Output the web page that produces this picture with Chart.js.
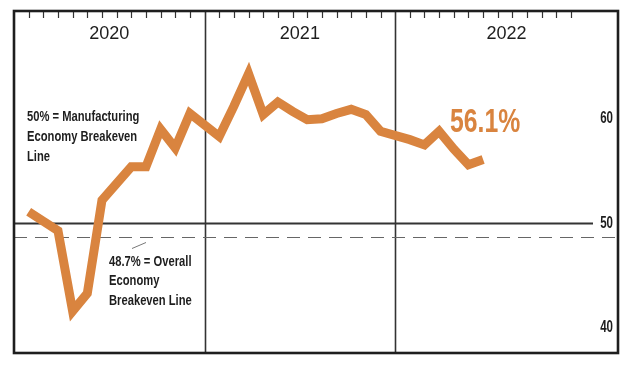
<!DOCTYPE html>
<html>
<head>
<meta charset="utf-8">
<script src="https://cdn.jsdelivr.net/npm/chart.js@4.4.0/dist/chart.umd.min.js"></script>
<style>
    body { margin: 0; background: #fff; }
    #wrap { width: 630px; height: 379px; }
</style>
</head>
<body>
<div id="wrap"><canvas id="pmiChart" width="630" height="379"></canvas></div>
<script>
// Data
const years = ['2020', '2021', '2022'];
const monthsPerYear = 12;
const pmi2020 = [51.1, 50.2, 49.3, 41.6, 43.3, 52.2, 53.8, 55.4, 55.4, 59.0, 57.2, 60.5];
const pmi2021 = [58.3, 61.2, 64.3, 60.4, 61.6, 60.7, 59.9, 60.0, 60.5, 60.9, 60.4, 58.8];
const pmi2022 = [58.0, 57.5, 58.8, 57.1, 55.6, 56.1];
const yTickLabels = [40, 50, 60];
const mfgBreakeven = 50;
const overallBreakeven = 48.7;
const latestLabel = '56.1%';
const mfgNote = ['50% = Manufacturing', 'Economy Breakeven', 'Line'];
const overallNote = ['48.7% = Overall', 'Economy', 'Breakeven Line'];

const ORANGE = '#d9843f';
const INK = '#1e1e1e';
const SANS = '"Liberation Sans", Arial, sans-serif';

// each year takes 13 slots: the divider, then 12 months
const slot = monthsPerYear + 1;
const series = [pmi2020, pmi2021, pmi2022];
const points = [];
series.forEach((vals, yi) => {
    vals.forEach((v, m) => points.push({ x: yi * slot + m + 1, y: v }));
});

// no condensed face installed, so squeeze a normal one horizontally
function narrowText(ctx, text, x, y, sx) {
    ctx.save();
    ctx.translate(x, y);
    ctx.scale(sx, 1);
    ctx.fillText(text, 0, 0);
    ctx.restore();
}

const framePlugin = {
    id: 'frame',
    beforeDatasetsDraw(chart) {
        const ctx = chart.ctx;
        const { left, right, top, bottom } = chart.chartArea;
        const xs = chart.scales.x, ys = chart.scales.y;
        ctx.save();

        // year dividers
        ctx.strokeStyle = '#333';
        ctx.lineWidth = 1.6;
        for (let yi = 1; yi < years.length; yi++) {
            const px = Math.round(xs.getPixelForValue(yi * slot)) + 0.5;
            ctx.beginPath();
            ctx.moveTo(px, top);
            ctx.lineTo(px, bottom);
            ctx.stroke();
        }

        // month ticks along the top
        ctx.lineWidth = 1.2;
        for (let yi = 0; yi < years.length; yi++) {
            for (let m = 1; m <= monthsPerYear; m++) {
                const px = Math.round(xs.getPixelForValue(yi * slot + m)) + 0.5;
                ctx.beginPath();
                ctx.moveTo(px, top);
                ctx.lineTo(px, top + 7);
                ctx.stroke();
            }
        }

        // 50% manufacturing breakeven line
        const y50 = Math.round(ys.getPixelForValue(mfgBreakeven)) + 0.5;
        ctx.strokeStyle = '#333';
        ctx.lineWidth = 1.8;
        ctx.beginPath();
        ctx.moveTo(left, y50);
        ctx.lineTo(right - 25, y50);
        ctx.stroke();

        // 48.7% overall economy breakeven line
        const y487 = Math.round(ys.getPixelForValue(overallBreakeven)) + 0.5;
        ctx.strokeStyle = '#666';
        ctx.lineWidth = 1.2;
        ctx.setLineDash([13, 8]);
        ctx.beginPath();
        ctx.moveTo(left, y487);
        ctx.lineTo(right, y487);
        ctx.stroke();
        ctx.setLineDash([]);

        // leader from note to the dashed line
        ctx.strokeStyle = '#777';
        ctx.lineWidth = 1;
        ctx.beginPath();
        ctx.moveTo(left + 118, y487 + 11);
        ctx.lineTo(left + 132, y487 + 5);
        ctx.stroke();

        ctx.restore();
    },
    afterDraw(chart) {
        const ctx = chart.ctx;
        const { left, right, top, bottom } = chart.chartArea;
        const xs = chart.scales.x, ys = chart.scales.y;
        ctx.save();

        // outer frame
        ctx.strokeStyle = INK;
        ctx.lineWidth = 2.6;
        ctx.strokeRect(left, top, right - left, bottom - top);

        // year labels centred in each panel
        ctx.fillStyle = INK;
        ctx.font = '19px ' + SANS;
        ctx.textAlign = 'center';
        ctx.textBaseline = 'middle';
        years.forEach((yr, yi) => {
            const x0 = xs.getPixelForValue(yi * slot);
            const x1 = yi === years.length - 1 ? right : xs.getPixelForValue((yi + 1) * slot);
            narrowText(ctx, yr, (x0 + x1) / 2, top + 23, 0.95);
        });

        // value labels on the right
        ctx.font = 'bold 16px ' + SANS;
        ctx.textAlign = 'right';
        yTickLabels.forEach(v => {
            narrowText(ctx, String(v), right - 5, ys.getPixelForValue(v), 0.72);
        });

        // notes
        ctx.font = 'bold 14px ' + SANS;
        ctx.textAlign = 'left';
        mfgNote.forEach((t, i) => narrowText(ctx, t, left + 13, 117 + i * 20, 0.8));
        overallNote.forEach((t, i) => narrowText(ctx, t, left + 95, 262 + i * 19.5, 0.8));

        // latest reading
        ctx.fillStyle = ORANGE;
        ctx.font = 'bold 33px ' + SANS;
        narrowText(ctx, latestLabel, 450, 123, 0.75);

        ctx.restore();
    }
};

const ctx = document.getElementById('pmiChart').getContext('2d');
const pmiChart = new Chart(ctx, {
    type: 'line',
    data: {
        datasets: [{
            label: 'PMI',
            data: points,
            borderColor: ORANGE,
            borderWidth: 9,
            borderJoinStyle: 'miter',
            borderCapStyle: 'butt',
            pointRadius: 0,
            tension: 0,
            fill: false
        }]
    },
    options: {
        responsive: false,
        animation: false,
        devicePixelRatio: 1,
        layout: { padding: { left: 14, top: 11, right: 12, bottom: 26 } },
        scales: {
            x: { type: 'linear', min: 0, max: 41.2, display: false },
            y: { type: 'linear', min: 37.6, max: 70.3, display: false }
        },
        plugins: {
            legend: { display: false },
            tooltip: { enabled: false }
        }
    },
    plugins: [framePlugin]
});
</script>
</body>
</html>
